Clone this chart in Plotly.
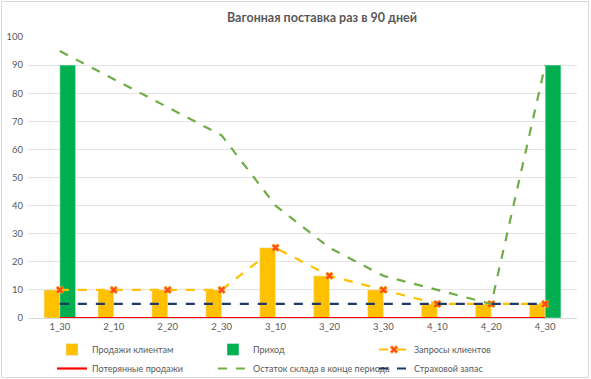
import plotly.graph_objects as go

categories = ["1_30", "2_10", "2_20", "2_30", "3_10", "3_20", "3_30", "4_10", "4_20", "4_30"]
sales = [10, 10, 10, 10, 25, 15, 10, 5, 5, 5]
receipts = [90, 0, 0, 0, 0, 0, 0, 0, 0, 90]
requests = [10, 10, 10, 10, 25, 15, 10, 5, 5, 5]
lost_sales = [0, 0, 0, 0, 0, 0, 0, 0, 0, 0]
stock_end = [95, 85, 75, 65, 40, 25, 15, 10, 5, 90]
safety_stock = [5, 5, 5, 5, 5, 5, 5, 5, 5, 5]

W, H = 591, 379
ML, MR, MT, MB = 28, 14, 37, 61
FONT = "Lato"
GRAY = "#595959"

fig = go.Figure()
fig.add_trace(go.Bar(x=categories, y=sales, name="Продажи клиентам", marker_color="#FFC000"))
fig.add_trace(go.Bar(x=categories, y=receipts, name="Приход", marker_color="#00B050"))
fig.add_trace(go.Scatter(x=categories, y=requests, name="Запросы клиентов", mode="lines+markers",
                         line=dict(color="#FFC000", width=2.2, dash="dash"),
                         marker=dict(symbol="x", size=7, color="#FF4A1A", line=dict(color="#FFC000", width=0.6))))
fig.add_trace(go.Scatter(x=categories, y=lost_sales, name="Потерянные продажи", mode="lines",
                         line=dict(color="#FF0000", width=2.2)))
fig.add_trace(go.Scatter(x=categories, y=stock_end, name="Остаток склада в конце периода", mode="lines",
                         line=dict(color="#70AD47", width=2.2, dash="dash")))
fig.add_trace(go.Scatter(x=categories, y=safety_stock, name="Страховой запас", mode="lines",
                         line=dict(color="#203864", width=2.2, dash="dash")))

pw = W - ML - MR
ph = H - MT - MB
fig.update_layout(
    width=W, height=H,
    margin=dict(l=ML, r=MR, t=MT, b=MB, autoexpand=False),
    paper_bgcolor="white", plot_bgcolor="white",
    font=dict(family=FONT, size=9.5, color=GRAY),
    barmode="group", bargap=0.415, bargroupgap=0,
    title=dict(text="<b>Вагонная поставка раз в 90 дней</b>", x=322 / W, xanchor="center",
               xref="container", yref="container",
               y=1 - 18 / H, yanchor="middle", font=dict(size=12.5, color=GRAY, family=FONT)),
    xaxis=dict(showgrid=False, showline=True, linecolor="#D9D9D9", ticks="",
               tickfont=dict(size=9.5, color=GRAY), automargin=False),
    yaxis=dict(range=[0, 100], dtick=10, showgrid=True, gridcolor="#E3E3E3", gridwidth=1,
               zeroline=False, ticks="", tickfont=dict(size=9.5, color=GRAY), ticklabelstandoff=4,
               automargin=False),
    legend=dict(orientation="h", xref="container", yref="container",
                x=52 / W, xanchor="left", y=1 - 335 / H,
                yanchor="top", entrywidth=116, entrywidthmode="pixels",
                font=dict(size=9, color=GRAY), traceorder="normal", tracegroupgap=0,
                itemwidth=30, bgcolor="rgba(0,0,0,0)"),
    shapes=[dict(type="rect", xref="paper", yref="paper",
                 x0=-(ML - 1.5) / pw, x1=1 + (MR - 2.5) / pw,
                 y0=-(MB - 1.5) / ph, y1=1 + (MT - 1.5) / ph,
                 line=dict(color="#D9D9D9", width=1))],
)
fig.write_html("out.html", config={"displayModeBar": False},
               post_script="document.body.style.margin='0';document.body.style.overflow='hidden';")
